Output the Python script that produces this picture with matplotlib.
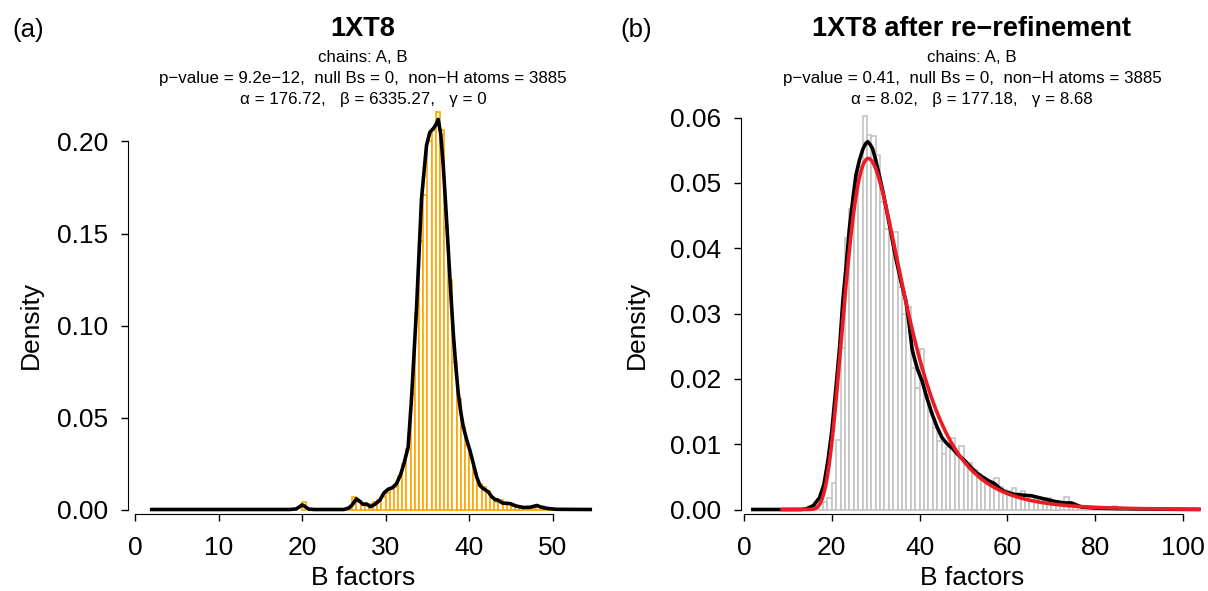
import math
import numpy as np
import matplotlib.pyplot as plt

plt.rcParams['font.family'] = ['Liberation Sans', 'DejaVu Sans']

W, H = 1208, 591

# ---- panel (a): 1XT8 as deposited ----
# histogram, bins 0.5 wide (left edge, density)
a_bin_left = [20.0, 25.5, 26.0, 26.5, 27.0, 27.5, 28.0, 28.5, 29.0, 29.5,
              30.0, 30.5, 31.0, 31.5, 32.0, 32.5, 33.0, 33.5, 34.0, 34.5,
              35.0, 35.5, 36.0, 36.5, 37.0, 37.5, 38.0, 38.5, 39.0, 39.5,
              40.0, 40.5, 41.0, 41.5, 42.0, 42.5, 43.0, 43.5, 44.0, 44.5,
              45.0, 45.5, 46.0, 46.5, 47.0, 47.5, 48.0, 48.5, 49.0, 49.5, 50.0]
a_bin_density = [0.004, 0.001, 0.0066, 0.004, 0.003, 0.003, 0.003, 0.004, 0.005, 0.007,
                 0.009, 0.0115, 0.012, 0.018, 0.025, 0.033, 0.063, 0.107, 0.146, 0.171,
                 0.200, 0.206, 0.216, 0.206, 0.1535, 0.125, 0.080, 0.060, 0.045, 0.035,
                 0.028, 0.020, 0.014, 0.012, 0.010, 0.006, 0.004, 0.005, 0.003, 0.003,
                 0.002, 0.0015, 0.0015, 0.001, 0.001, 0.0008, 0.0015, 0.002, 0.001, 0.0005, 0.0003]

# kernel density estimate
a_kde_x = [2.0, 18.5, 19.3, 19.7, 20.0, 20.3, 20.8, 21.5, 25.0, 25.6, 26.0, 26.5, 26.9,
           27.3, 27.7, 28.2, 28.7, 29.3, 29.8, 30.3, 30.8, 31.3, 31.8, 32.2, 32.7, 33.1,
           33.7, 34.3, 34.9, 35.3, 35.7, 36.0, 36.3, 36.6, 36.9, 37.2, 37.5, 37.8, 38.1,
           38.4, 38.7, 39.0, 39.3, 39.7, 40.1, 40.5, 40.9, 41.3, 41.7, 42.0, 42.3, 42.7,
           43.1, 43.4, 44.0, 44.9, 45.7, 46.5, 47.3, 48.1, 48.8, 49.7, 50.5, 54.5]
a_kde_y = [0.0, 0.0, 0.0003, 0.0015, 0.0025, 0.0018, 0.0002, 0.0, 0.0, 0.0008, 0.0025, 0.0058, 0.0045,
           0.0028, 0.003, 0.0015, 0.0028, 0.005, 0.009, 0.011, 0.0118, 0.014, 0.019, 0.025, 0.034, 0.060,
           0.109, 0.169, 0.198, 0.205, 0.207, 0.209, 0.212, 0.204, 0.187, 0.165, 0.1415, 0.118, 0.096,
           0.078, 0.063, 0.053, 0.045, 0.038, 0.032, 0.025, 0.0177, 0.013, 0.0113, 0.0105, 0.0095, 0.007,
           0.0054, 0.0052, 0.0035, 0.0032, 0.0018, 0.0011, 0.0012, 0.0022, 0.001, 0.0004, 0.0001, 0.0]

# ---- panel (b): after re-refinement ----
# histogram, bins 1 wide
b_bin_left = list(range(15, 86))
b_bin_density = [0.0002, 0.0005, 0.0008, 0.0012, 0.0018, 0.004, 0.0107, 0.0247, 0.0415, 0.046,
                 0.049, 0.0524, 0.0603, 0.0573, 0.0571, 0.0542, 0.0471, 0.043, 0.0425, 0.0425,
                 0.0341, 0.030, 0.031, 0.0216, 0.0186, 0.0246, 0.0175, 0.015, 0.0125, 0.0105,
                 0.0085, 0.0095, 0.011, 0.0085, 0.0097, 0.007, 0.0071, 0.006, 0.0055, 0.005,
                 0.004, 0.0043, 0.0048, 0.0035, 0.003, 0.0028, 0.0033, 0.0025, 0.0028, 0.0022,
                 0.002, 0.0015, 0.0018, 0.0017, 0.0018, 0.0012, 0.001, 0.0009, 0.0019, 0.0008,
                 0.0006, 0.0005, 0.0004, 0.0003, 0.0003, 0.0002, 0.0002, 0.0002, 0.0001, 0.0005,
                 0.0001]

b_kde_x = [2.0, 13.0, 14.2, 15.8, 17.2, 18.2, 19.1, 20.0, 21.0, 21.8, 22.5, 23.3, 24.0, 24.8,
           25.5, 26.3, 27.1, 27.7, 28.2, 28.8, 29.3, 30.0, 30.8, 31.6, 32.4, 33.5, 34.6, 35.8,
           36.9, 37.6, 38.3, 38.8, 39.5, 40.6, 41.7, 42.9, 44.0, 45.1, 46.2, 47.4, 48.9, 50.4,
           51.9, 53.4, 54.5, 55.7, 57.2, 58.3, 59.5, 61.7, 63.5, 65.5, 68.5, 71.0, 73.1, 74.6,
           76.8, 80.6, 88.0, 95.0, 103.6]
b_kde_y = [0.0, 0.0, 0.0001, 0.0006, 0.0018, 0.0038, 0.0074, 0.012, 0.019, 0.025, 0.0318, 0.0375,
           0.043, 0.0475, 0.0512, 0.0535, 0.0552, 0.056, 0.0563, 0.0558, 0.0552, 0.0535, 0.0512,
           0.0488, 0.0461, 0.0423, 0.0384, 0.0348, 0.0318, 0.0285, 0.0245, 0.0232, 0.0215, 0.0196,
           0.017, 0.0145, 0.0126, 0.011, 0.0101, 0.0094, 0.0083, 0.0074, 0.0063, 0.0054, 0.0049,
           0.0044, 0.0039, 0.0032, 0.0027, 0.0023, 0.0022, 0.0021, 0.0016, 0.0012, 0.001, 0.001,
           0.0004, 0.0002, 0.0001, 0.00005, 0.0]

# fitted shifted inverse-gamma for panel (b)
b_alpha, b_beta, b_gamma = 8.02, 177.18, 8.68
b_fit_end = 103.6

a_title = ['1XT8', 'chains: A, B',
           'p\u2212value = 9.2e\u221212,  null Bs = 0,  non\u2212H atoms = 3885',
           '\u03b1 = 176.72,   \u03b2 = 6335.27,   \u03b3 = 0']
b_title = ['1XT8 after re\u2212refinement', 'chains: A, B',
           'p\u2212value = 0.41,  null Bs = 0,  non\u2212H atoms = 3885',
           '\u03b1 = 8.02,   \u03b2 = 177.18,   \u03b3 = 8.68']


def shifted_invgamma(x, a, b, g):
    t = x - g
    out = np.zeros_like(x)
    ok = t > 0
    logf = a * math.log(b) - math.lgamma(a) - (a + 1) * np.log(t[ok]) - b / t[ok]
    out[ok] = np.exp(logf)
    return out


fig = plt.figure(figsize=(W / 100, H / 100), dpi=100)


def add_axes_px(x0, x1, ytop, ybot):
    return fig.add_axes([x0 / W, 1 - ybot / H, (x1 - x0) / W, (ybot - ytop) / H])


def r_axes(ax, xb, yb, xticks, yticks, yfmt):
    for s in ['top', 'right']:
        ax.spines[s].set_visible(False)
    ax.spines['left'].set_bounds(*yb)
    ax.spines['bottom'].set_bounds(*xb)
    ax.set_xticks(xticks)
    ax.set_yticks(yticks)
    ax.set_yticklabels([yfmt % v for v in yticks])
    ax.tick_params(direction='out', length=5, width=1, labelsize=19)
    ax.tick_params(axis='y', pad=9)
    ax.tick_params(axis='x', pad=11)


# panel (a)
ax1 = add_axes_px(128, 598.6, 104.7, 514)
ax1.bar(a_bin_left, a_bin_density, width=0.5, align='edge', color='white',
        edgecolor='#FFA500', linewidth=1.2, clip_on=False)
ax1.plot(a_kde_x, a_kde_y, color='black', lw=2.6, solid_joinstyle='round', clip_on=False)
ax1.set_xlim(-0.84, 55.5)
ax1.set_ylim(-4.5 / 1840, (509.5 - 104.7) / 1840)
r_axes(ax1, (0, 50), (0, 0.2), [0, 10, 20, 30, 40, 50], [0, 0.05, 0.10, 0.15, 0.20], '%.2f')

# panel (b)
bx = 4.39
ax2 = add_axes_px(741, 1203, 101.2, 514)
ax2.bar(b_bin_left, b_bin_density, width=1.0, align='edge', color='white',
        edgecolor='#C4C4C4', linewidth=1.2, clip_on=False)
ax2.plot(b_kde_x, b_kde_y, color='black', lw=2.6, solid_joinstyle='round', clip_on=False)
fit_x = np.linspace(b_gamma, b_fit_end, 800)
ax2.plot(fit_x, shifted_invgamma(fit_x, b_alpha, b_beta, b_gamma), color='#EC1C24', lw=2.6,
         clip_on=False)
ax2.set_xlim(-3 / bx, (1203 - 744) / bx)
ax2.set_ylim(-4.5 / 6533, (509.5 - 101.2) / 6533)
r_axes(ax2, (0, 100), (0, 0.06), [0, 20, 40, 60, 80, 100],
       [0, 0.01, 0.02, 0.03, 0.04, 0.05, 0.06], '%.2f')

# titles, panel letters and axis labels
for cx, lines in [(363, a_title), (972, b_title)]:
    fig.text(cx / W, 1 - 36 / H, lines[0], ha='center', va='baseline',
             fontsize=19.5, fontweight='bold')
    for yb, txt in zip([62, 83, 104], lines[1:]):
        fig.text(cx / W, 1 - yb / H, txt, ha='center', va='baseline', fontsize=12.2)

fig.text(12 / W, 1 - 37 / H, '(a)', ha='left', va='baseline', fontsize=18.5)
fig.text(620 / W, 1 - 37 / H, '(b)', ha='left', va='baseline', fontsize=18.5)

for cx in [363, 972]:
    fig.text(cx / W, 1 - 578 / H, 'B factors', ha='center', va='center', fontsize=19)
for cx in [31, 637]:
    fig.text(cx / W, 1 - 325 / H, 'Density', ha='center', va='center', fontsize=19,
             rotation=90)

fig.savefig('out.png', dpi=100)
